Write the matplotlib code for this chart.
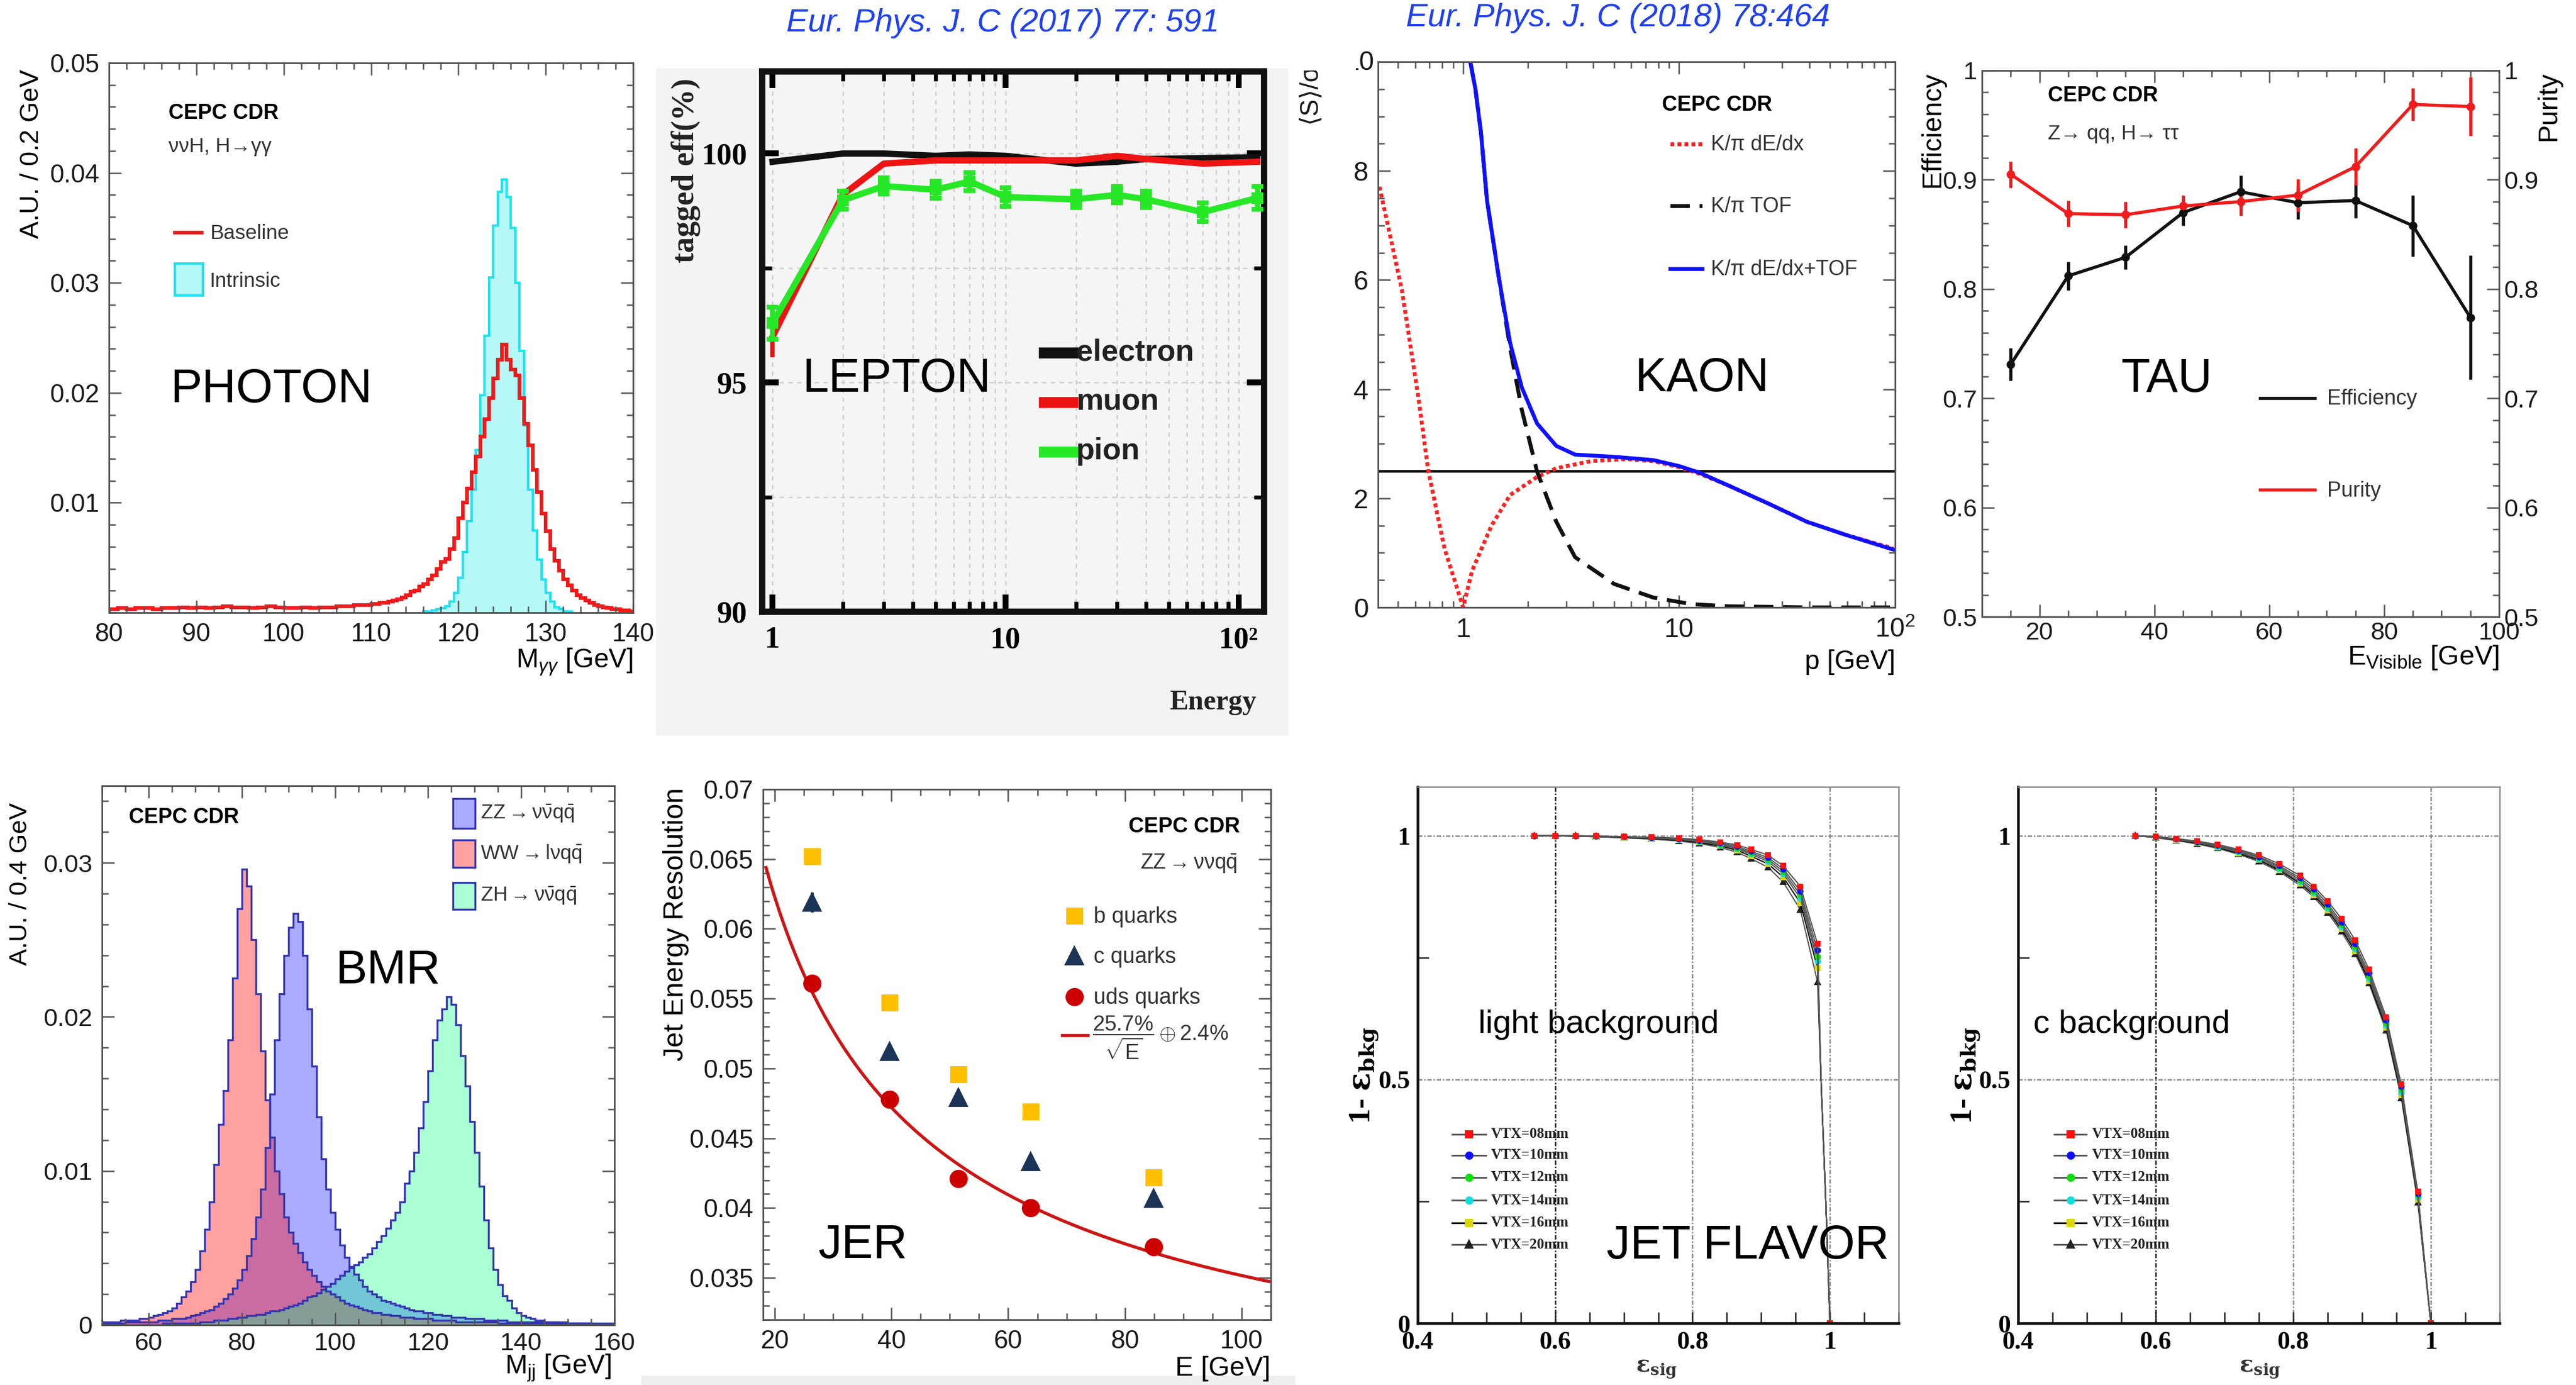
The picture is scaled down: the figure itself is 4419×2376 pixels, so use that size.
import numpy as np
import matplotlib
matplotlib.use("Agg")
import matplotlib.pyplot as plt
from matplotlib import font_manager
from matplotlib.lines import Line2D
from matplotlib.patches import Rectangle
from matplotlib.ticker import MultipleLocator, LogLocator, NullFormatter
from matplotlib.transforms import Bbox, TransformedBbox

# PHOTON: diphoton mass for vvH, H->gamma gamma
photon_edges = np.concatenate([np.arange(80, 110, 1.0), np.arange(110, 140.01, 0.5)])
photon_baseline = [
    0.0003, 0.0004, 0.0003, 0.0004, 0.0004, 0.0003, 0.0004, 0.0004, 0.0005, 0.0004,
    0.0005, 0.0004, 0.0005, 0.0006, 0.0005, 0.0005, 0.0004, 0.0005, 0.0006, 0.0005,
    0.0004, 0.0004, 0.0005, 0.0004, 0.0005, 0.0005, 0.0006, 0.0006, 0.0007, 0.0007,
    0.0008, 0.0008, 0.0009, 0.0009, 0.0010, 0.0011, 0.0012, 0.0014, 0.0016, 0.0019,
    0.0020, 0.0024, 0.0026, 0.0030, 0.0034, 0.0040, 0.0046, 0.0049, 0.0058, 0.0068,
    0.0086, 0.0100, 0.0113, 0.0128, 0.0142, 0.0160, 0.0176, 0.0195, 0.0213, 0.0230,
    0.0244, 0.0230, 0.0221, 0.0216, 0.0195, 0.0172, 0.0152, 0.0130, 0.0110, 0.0090,
    0.0074, 0.0058, 0.0047, 0.0038, 0.0030, 0.0025, 0.0020, 0.0016, 0.0013, 0.0011,
    0.0009, 0.0007, 0.0006, 0.0005, 0.0004, 0.0003, 0.0003, 0.0002, 0.0002, 0.0001]
intrinsic_edges = np.arange(116, 133.01, 0.5)
photon_intrinsic = [
    0.0001, 0.0001, 0.0002, 0.0003, 0.0004, 0.0006, 0.0010, 0.0018,
    0.0032, 0.0055, 0.0083, 0.0112, 0.0148, 0.0198, 0.0252, 0.0305,
    0.0352, 0.0383, 0.0394, 0.0378, 0.0350, 0.0300, 0.0238, 0.0170,
    0.0112, 0.0075, 0.0048, 0.0030, 0.0018, 0.0010, 0.0005, 0.0003,
    0.0001, 0.0001]

# LEPTON: tagging efficiency vs energy
lep_energy = [1, 2, 3, 5, 7, 10, 20, 30, 40, 70, 120]
electron_eff = [99.82, 100.0, 100.0, 99.95, 99.98, 99.95, 99.78, 99.82, 99.88, 99.9, 99.92]
muon_eff = [96.0, 99.1, 99.78, 99.85, 99.85, 99.85, 99.85, 99.95, 99.88, 99.78, 99.82]
muon_err = [0.45, 0.1, 0, 0, 0, 0, 0, 0, 0, 0, 0]
pion_eff = [96.3, 98.98, 99.29, 99.21, 99.39, 99.05, 99.0, 99.1, 99.0, 98.72, 99.03]
pion_err = [0.35, 0.2, 0.18, 0.18, 0.2, 0.2, 0.18, 0.18, 0.18, 0.2, 0.25]
lep_names = ["electron", "muon", "pion"]

# KAON: K/pi separation power
kaon_p_dedx = [0.41, 0.52, 0.62, 0.69, 0.82, 1.0, 1.1, 1.35, 1.65, 2.2, 2.7, 3.9, 5.7, 7.6,
               10, 12.4, 17, 26, 39, 59, 98]
kaon_s_dedx = [7.71, 5.83, 3.86, 2.5, 1.08, 0.0, 0.67, 1.49, 2.06, 2.39, 2.55, 2.68, 2.72, 2.68,
               2.57, 2.45, 2.23, 1.9, 1.57, 1.33, 1.08]
kaon_p_tof = [1.08, 1.14, 1.21, 1.29, 1.46, 1.65, 1.87, 2.2, 2.7, 3.3, 5.0, 7.6, 11.4, 17, 26, 40, 100]
kaon_s_tof = [10.0, 9.5, 8.7, 7.46, 6.07, 4.76, 3.62, 2.49, 1.57, 0.92, 0.43, 0.18, 0.06, 0.02, 0.01, 0.0, 0.0]
kaon_p_comb = [1.08, 1.14, 1.21, 1.29, 1.46, 1.65, 1.87, 2.2, 2.7, 3.3, 5.0, 7.6, 10, 12.4, 17, 26, 39, 59, 98]
kaon_s_comb = [10.0, 9.5, 8.7, 7.46, 6.07, 4.85, 4.03, 3.37, 2.96, 2.8, 2.76, 2.70, 2.59, 2.47, 2.23, 1.9,
               1.57, 1.33, 1.06]
kaon_threshold = 2.5

# TAU: efficiency and purity vs visible energy
tau_e = [15, 25, 35, 45, 55, 65, 75, 85, 95]
tau_eff = [0.731, 0.812, 0.829, 0.870, 0.889, 0.879, 0.881, 0.858, 0.774]
tau_eff_err = [0.015, 0.013, 0.011, 0.012, 0.015, 0.015, 0.016, 0.028, 0.057]
tau_pur = [0.905, 0.869, 0.868, 0.876, 0.880, 0.886, 0.912, 0.969, 0.967]
tau_pur_err = [0.012, 0.012, 0.012, 0.010, 0.013, 0.015, 0.017, 0.015, 0.027]

# BMR: dijet mass, 1 GeV bins from 50 to 160
bmr_edges = np.arange(50, 160.01, 1.0)
bmr_zz = [
    0.0001, 0.0001, 0.0001, 0.0001, 0.0001, 0.0002, 0.0002, 0.0002, 0.0002, 0.0002,
    0.0002, 0.0002, 0.0003, 0.0003, 0.0003, 0.0004, 0.0004, 0.0004, 0.0005, 0.0006,
    0.0007, 0.0008, 0.0009, 0.0010, 0.0012, 0.0014, 0.0017, 0.0020, 0.0024, 0.0029,
    0.0036, 0.0045, 0.0056, 0.0070, 0.0088, 0.0115, 0.0150, 0.0185, 0.0215, 0.0240,
    0.0258, 0.0267, 0.0262, 0.0240, 0.0205, 0.0168, 0.0135, 0.0108, 0.0088, 0.0073,
    0.0062, 0.0052, 0.0044, 0.0038, 0.0033, 0.0029, 0.0025, 0.0022, 0.0020, 0.0018,
    0.0016, 0.0015, 0.0014, 0.0013, 0.0012, 0.0011, 0.0010, 0.0009, 0.0009, 0.0008,
    0.0008, 0.0007, 0.0007, 0.0006, 0.0006, 0.0005, 0.0005, 0.0005, 0.0004, 0.0004,
    0.0004, 0.0004, 0.0003, 0.0003, 0.0003, 0.0003, 0.0003, 0.0002, 0.0002, 0.0002,
    0.0002, 0.0002, 0.0002, 0.0002, 0.0002, 0.0002, 0.0002, 0.0002, 0.0002, 0.0002,
    0.0001, 0.0001, 0.0001, 0.0001, 0.0001, 0.0001, 0.0001, 0.0001, 0.0001, 0.0001]
bmr_ww = [
    0.0002, 0.0002, 0.0002, 0.0002, 0.0003, 0.0003, 0.0003, 0.0003, 0.0004, 0.0004,
    0.0005, 0.0006, 0.0007, 0.0008, 0.0009, 0.0011, 0.0014, 0.0018, 0.0022, 0.0028,
    0.0036, 0.0048, 0.0062, 0.0080, 0.0104, 0.0130, 0.0152, 0.0185, 0.0225, 0.0270,
    0.0296, 0.0285, 0.0250, 0.0215, 0.0178, 0.0146, 0.0122, 0.0100, 0.0085, 0.0070,
    0.0060, 0.0053, 0.0047, 0.0041, 0.0036, 0.0032, 0.0028, 0.0025, 0.0022, 0.0020,
    0.0018, 0.0016, 0.0014, 0.0013, 0.0012, 0.0011, 0.0010, 0.0009, 0.0008, 0.0008,
    0.0007, 0.0007, 0.0006, 0.0006, 0.0005, 0.0005, 0.0005, 0.0004, 0.0004, 0.0004,
    0.0004, 0.0003, 0.0003, 0.0003, 0.0003, 0.0003, 0.0002, 0.0002, 0.0002, 0.0002,
    0.0002, 0.0002, 0.0002, 0.0002, 0.0002, 0.0001, 0.0001, 0.0001, 0.0001, 0.0001,
    0.0001, 0.0001, 0.0001, 0.0001, 0.0001, 0.0001, 0.0001, 0.0001, 0.0001, 0.0001,
    0.0001, 0.0001, 0.0001, 0.0001, 0.0001, 0.0000, 0.0000, 0.0000, 0.0000, 0.0000]
bmr_zh = [
    0.0000, 0.0000, 0.0000, 0.0000, 0.0000, 0.0000, 0.0000, 0.0000, 0.0000, 0.0000,
    0.0000, 0.0000, 0.0000, 0.0001, 0.0001, 0.0001, 0.0001, 0.0001, 0.0001, 0.0001,
    0.0001, 0.0002, 0.0002, 0.0002, 0.0003, 0.0003, 0.0003, 0.0004, 0.0004, 0.0005,
    0.0005, 0.0006, 0.0006, 0.0007, 0.0007, 0.0008, 0.0009, 0.0009, 0.0010, 0.0011,
    0.0012, 0.0013, 0.0014, 0.0016, 0.0018, 0.0019, 0.0021, 0.0023, 0.0025, 0.0027,
    0.0030, 0.0032, 0.0035, 0.0037, 0.0039, 0.0041, 0.0044, 0.0046, 0.0050, 0.0054,
    0.0058, 0.0063, 0.0068, 0.0073, 0.0080, 0.0092, 0.0100, 0.0112, 0.0128, 0.0145,
    0.0165, 0.0185, 0.0198, 0.0205, 0.0213, 0.0208, 0.0195, 0.0175, 0.0155, 0.0132,
    0.0112, 0.0090, 0.0068, 0.0050, 0.0036, 0.0026, 0.0019, 0.0016, 0.0011, 0.0008,
    0.0006, 0.0005, 0.0004, 0.0003, 0.0003, 0.0002, 0.0002, 0.0002, 0.0001, 0.0001,
    0.0001, 0.0001, 0.0001, 0.0001, 0.0001, 0.0000, 0.0000, 0.0000, 0.0000, 0.0000]
bmr_names = [r"ZZ$\rightarrow\mathrm{\nu\bar{\nu}q\bar{q}}$",
             r"WW$\rightarrow\mathrm{l\nu q\bar{q}}$",
             r"ZH$\rightarrow\mathrm{\nu\bar{\nu}q\bar{q}}$"]

# JER: jet energy resolution per quark flavour
jer_energy = [26.4, 39.7, 51.5, 63.8, 84.9]
jer_b = [0.0652, 0.0547, 0.0496, 0.0469, 0.0422]
jer_b_err = [0.0006, 0.0004, 0.0004, 0.0002, 0.0002]
jer_c = [0.0619, 0.0512, 0.0479, 0.0433, 0.0407]
jer_c_err = [0.0007, 0.0002, 0.0006, 0.0002, 0.0002]
jer_uds = [0.0561, 0.0478, 0.0421, 0.0400, 0.0372]
jer_stochastic = 0.257
jer_constant = 0.024

# JET FLAVOR: 1 - bkg efficiency vs signal efficiency for several VTX radii
vtx_names = ["VTX=08mm", "VTX=10mm", "VTX=12mm", "VTX=14mm", "VTX=16mm", "VTX=20mm"]
light_eff_sig = [0.57, 0.60, 0.63, 0.66, 0.70, 0.74, 0.78, 0.81, 0.84, 0.865, 0.885, 0.91,
                 0.932, 0.957, 0.982, 0.987, 0.994, 1.0]
light_rej = [
    [1.0, 1.0, 1.0, 0.999, 0.998, 0.997, 0.995, 0.992, 0.987, 0.981, 0.972, 0.960, 0.938, 0.896, 0.778, 0.5, 0.25, 0.0],
    [1.0, 1.0, 1.0, 0.999, 0.998, 0.996, 0.994, 0.990, 0.985, 0.978, 0.968, 0.955, 0.932, 0.886, 0.765, 0.5, 0.25, 0.0],
    [1.0, 1.0, 0.999, 0.999, 0.997, 0.996, 0.993, 0.989, 0.983, 0.975, 0.965, 0.951, 0.927, 0.879, 0.752, 0.5, 0.25, 0.0],
    [1.0, 1.0, 0.999, 0.998, 0.997, 0.995, 0.992, 0.988, 0.981, 0.973, 0.962, 0.947, 0.922, 0.872, 0.742, 0.5, 0.25, 0.0],
    [1.0, 1.0, 0.999, 0.998, 0.996, 0.994, 0.991, 0.986, 0.979, 0.970, 0.958, 0.942, 0.915, 0.862, 0.728, 0.5, 0.25, 0.0],
    [1.0, 1.0, 0.999, 0.998, 0.996, 0.993, 0.989, 0.984, 0.976, 0.966, 0.953, 0.935, 0.905, 0.848, 0.700, 0.5, 0.25, 0.0]]
c_eff_sig = [0.57, 0.60, 0.63, 0.66, 0.69, 0.72, 0.75, 0.78, 0.81, 0.83, 0.85, 0.87, 0.89, 0.91,
             0.935, 0.957, 0.981, 1.0]
c_rej = [
    [1.0, 0.998, 0.994, 0.989, 0.982, 0.972, 0.960, 0.942, 0.918, 0.896, 0.866, 0.830, 0.786, 0.726, 0.628, 0.490, 0.270, 0.0],
    [1.0, 0.998, 0.993, 0.988, 0.980, 0.970, 0.957, 0.938, 0.913, 0.891, 0.860, 0.823, 0.778, 0.718, 0.622, 0.485, 0.266, 0.0],
    [1.0, 0.997, 0.993, 0.987, 0.979, 0.968, 0.955, 0.935, 0.909, 0.886, 0.855, 0.818, 0.772, 0.712, 0.616, 0.479, 0.262, 0.0],
    [1.0, 0.997, 0.992, 0.986, 0.977, 0.966, 0.952, 0.932, 0.905, 0.882, 0.851, 0.813, 0.768, 0.707, 0.611, 0.474, 0.258, 0.0],
    [1.0, 0.997, 0.991, 0.985, 0.976, 0.964, 0.950, 0.929, 0.902, 0.878, 0.847, 0.808, 0.763, 0.702, 0.606, 0.468, 0.253, 0.0],
    [1.0, 0.996, 0.990, 0.983, 0.974, 0.962, 0.947, 0.926, 0.898, 0.874, 0.842, 0.803, 0.757, 0.697, 0.600, 0.462, 0.248, 0.0]]

# ---------------------------------------------------------------------------
plt.rcParams["font.family"] = ["Liberation Sans", "DejaVu Sans"]
plt.rcParams["mathtext.fontset"] = "custom"
plt.rcParams["mathtext.rm"] = "Liberation Sans"
plt.rcParams["mathtext.it"] = "Liberation Sans:italic"
plt.rcParams["mathtext.bf"] = "Liberation Sans:bold"
SERIF = ["Liberation Serif", "DejaVu Serif"]
installed = {f.name for f in font_manager.fontManager.ttflist}
NARROW = "Liberation Sans Narrow" if "Liberation Sans Narrow" in installed else "Liberation Sans"

W, H = 4419, 2376
fig = plt.figure(figsize=(W / 300, H / 300), dpi=300)


def add_ax(l, t, r, b):
    return fig.add_axes([l / W, 1 - b / H, (r - l) / W, (b - t) / H])


def ftext(x, y, s, **kw):
    kw.setdefault("va", "center")
    return fig.text(x / W, 1 - y / H, s, **kw)


def fline(x0, x1, y, **kw):
    fig.add_artist(Line2D([x0 / W, x1 / W], [1 - y / H, 1 - y / H], transform=fig.transFigure, **kw))


def fmark(x, y, **kw):
    fig.add_artist(Line2D([x / W], [1 - y / H], transform=fig.transFigure, ls="none", **kw))


def fbox(x0, y0, x1, y1, **kw):
    fig.add_artist(Rectangle((x0 / W, 1 - y1 / H), (x1 - x0) / W, (y1 - y0) / H,
                             transform=fig.transFigure, **kw))


def fig_clip(x0, y0, x1, y1):
    return TransformedBbox(Bbox.from_extents(x0 / W, 1 - y1 / H, x1 / W, 1 - y0 / H), fig.transFigure)


def root_style(ax, fs):
    ax.tick_params(which="both", direction="in", top=True, right=True, width=0.6,
                   color="#555555", labelsize=fs, labelcolor="#1a1a1a")
    ax.tick_params(which="major", length=5, pad=4)
    ax.tick_params(which="minor", length=2.6)
    for s in ax.spines.values():
        s.set_linewidth(0.7)
        s.set_edgecolor("#555555")


BIG = 19.5

# ---------------- PHOTON ----------------
ax = add_ax(187, 108, 1086, 1051)
ax.stairs(photon_intrinsic, intrinsic_edges, fill=True, color="#b6f7f7")
ax.stairs(photon_intrinsic, intrinsic_edges, color="#22e2ee", lw=1.0)
ax.stairs(photon_baseline, photon_edges, color="#ee1b1b", lw=1.5)
ax.set_xlim(80, 140)
ax.set_ylim(0, 0.05)
ax.set_xticks(range(80, 141, 10))
ax.set_yticks([0.01, 0.02, 0.03, 0.04, 0.05], ["0.01", "0.02", "0.03", "0.04", "0.05"])
ax.xaxis.set_minor_locator(MultipleLocator(2))
ax.yaxis.set_minor_locator(MultipleLocator(0.002))
root_style(ax, 10.5)
ftext(54, 119, "A.U. / 0.2 GeV", rotation=90, ha="center", va="top", fontsize=10.8)
ftext(1086, 1136, r"M$_{\gamma\gamma}$ [GeV]", ha="right", fontsize=11)
ftext(289, 194, "CEPC CDR", fontsize=8.7, fontweight="bold")
ftext(289, 252, "ννH, H→γγ", fontsize=8.5, color="#333333")
fline(300, 346, 399, color="#ee1b1b", lw=1.5)
ftext(360, 401, "Baseline", fontsize=8.5, color="#333333")
fbox(300, 452, 348, 507, facecolor="#b6f7f7", edgecolor="#22e2ee", lw=1.0)
ftext(360, 482, "Intrinsic", fontsize=8.5, color="#333333")
ftext(292, 669, "PHOTON", fontsize=BIG)

# ---------------- LEPTON ----------------
fbox(1126, 117, 2210, 1262, facecolor="#f3f3f3", edgecolor="none", zorder=-1)
ax = add_ax(1307, 122, 2168, 1049)
ax.set_facecolor("#f5f5f5")
ax.set_xscale("log")
ax.plot(lep_energy, electron_eff, color="#111111", lw=2.6, zorder=3)
ax.errorbar(lep_energy, muon_eff, yerr=muon_err, color="#ee1414", lw=2.6, elinewidth=1.8,
            capsize=0, zorder=4)
ax.errorbar(lep_energy, pion_eff, yerr=pion_err, color="#27e827", lw=2.6, marker="s", ms=4,
            elinewidth=2, capsize=2.5, capthick=2, zorder=5)
ax.set_xlim(0.9, 128)
ax.set_ylim(90, 101.8)
ax.set_xticks([1, 10, 100], ["1", "10", "10²"], fontfamily=SERIF, fontweight="bold")
ax.xaxis.set_minor_locator(LogLocator(base=10, subs=range(2, 10)))
ax.xaxis.set_minor_formatter(NullFormatter())
ax.set_yticks([90, 95, 100], ["90", "95", "100"], fontfamily=SERIF, fontweight="bold")
ax.yaxis.set_minor_locator(MultipleLocator(2.5))
ax.grid(True, which="both", color="#cfcfcf", lw=0.6, ls=(0, (3, 3)))
ax.set_axisbelow(True)
ax.tick_params(which="both", direction="in", top=True, right=True, labelsize=12.5, pad=6)
ax.tick_params(which="major", length=7, width=2.4)
ax.tick_params(which="minor", length=4, width=1.6)
for s in ax.spines.values():
    s.set_linewidth(2.6)
    s.set_edgecolor("#111111")
ftext(1177, 293, "tagged eff(%)", rotation=90, ha="center", fontsize=13,
      fontfamily=SERIF, fontweight="bold", color="#222222")
ftext(2155, 1205, "Energy", ha="right", fontsize=11.5, fontfamily=SERIF, fontweight="bold",
      color="#222222")
for name, col, y in zip(lep_names, ["#111111", "#ee1414", "#27e827"], [605, 690, 775]):
    fline(1791, 1840, y, color=col, lw=4.5)
    ftext(1846, y, name, fontsize=12.5, fontfamily=NARROW, fontweight="bold", color="#222222")
ftext(1376, 651, "LEPTON", fontsize=BIG)
ftext(1720, 40, "Eur. Phys. J. C (2017) 77: 591", ha="center", fontsize=13.3,
      fontstyle="italic", color="#2040f0")

# ---------------- KAON ----------------
ax = add_ax(2364, 106, 3251, 1042)
ax.set_xscale("log")
ax.axhline(kaon_threshold, color="#111111", lw=1.1)
ax.plot(kaon_p_dedx, kaon_s_dedx, color="#ff2222", lw=1.6, ls=(0, (1, 0.8)))
ax.plot(kaon_p_tof, kaon_s_tof, color="#111111", lw=1.6, ls=(0, (5, 2.5)))
ax.plot(kaon_p_comb, kaon_s_comb, color="#1010ff", lw=1.6)
ax.set_xlim(0.404, 100)
ax.set_ylim(0, 10)
ax.set_xticks([1, 10, 100], ["1", "10", "10$^{2}$"])
ax.xaxis.set_minor_locator(LogLocator(base=10, subs=range(2, 10)))
ax.xaxis.set_minor_formatter(NullFormatter())
ax.set_yticks([0, 2, 4, 6, 8, 10], ["0", "2", "4", "6", "8", ""])
ax.yaxis.set_minor_locator(MultipleLocator(0.5))
root_style(ax, 11)
# the "10" label and the axis title are cut off at the panel edge
top_label = ftext(2357, 108, "10", ha="right", fontsize=11, color="#1a1a1a")
top_label.set_clip_box(fig_clip(2326, 0, W, H))
top_label.set_clip_on(True)
y_title = ftext(2247, 161, "⟨S⟩/σ", rotation=90, ha="center", fontsize=10.5, color="#1a1a1a")
y_title.set_clip_box(fig_clip(2210, 121, 2300, 400))
y_title.set_clip_on(True)
ftext(3251, 1136, "p [GeV]", ha="right", fontsize=11)
ftext(2851, 180, "CEPC CDR", fontsize=8.7, fontweight="bold")
kaon_leg = ["K/π dE/dx", "K/π TOF", "K/π dE/dx+TOF"]
for name, col, ls, y in zip(kaon_leg, ["#ff2222", "#111111", "#1010ff"],
                            [(0, (1, 0.8)), (0, (5, 2.5)), "-"], [247, 353, 461]):
    fline(2865, 2920, y, color=col, lw=1.6, ls=ls)
    ftext(2935, y + 2, name, fontsize=8.6, color="#333333")
ftext(2804, 650, "KAON", fontsize=BIG)
ftext(2776, 31, "Eur. Phys. J. C (2018) 78:464", ha="center", fontsize=13.3,
      fontstyle="italic", color="#2040f0")

# ---------------- TAU ----------------
ax = add_ax(3400, 121, 4287, 1058)
ax.errorbar(tau_e, tau_eff, yerr=tau_eff_err, color="#111111", lw=1.3, marker="o", ms=2.5,
            capsize=0, elinewidth=1.3)
ax.errorbar(tau_e, tau_pur, yerr=tau_pur_err, color="#f01c1c", lw=1.3, marker="o", ms=2.5,
            capsize=0, elinewidth=1.3)
ax.set_xlim(10, 100)
ax.set_ylim(0.5, 1.0)
ax.set_xticks([20, 40, 60, 80, 100])
ax.xaxis.set_minor_locator(MultipleLocator(5))
ax.set_yticks([0.5, 0.6, 0.7, 0.8, 0.9, 1.0], ["0.5", "0.6", "0.7", "0.8", "0.9", "1"])
ax.yaxis.set_minor_locator(MultipleLocator(0.02))
root_style(ax, 10.3)
ax.tick_params(labelright=True, pad=2)
ftext(3315, 123, "Efficiency", rotation=90, ha="center", va="top", fontsize=11.2)
ftext(4372, 123, "Purity", rotation=90, ha="center", va="top", fontsize=11.2)
ftext(4287, 1128, r"E$_{\mathrm{Visible}}$ [GeV]", ha="right", fontsize=11.2)
ftext(3513, 164, "CEPC CDR", fontsize=8.7, fontweight="bold")
ftext(3513, 230, "Z→ qq, H→ ττ", fontsize=8.5, color="#333333")
fline(3877, 3971, 683, color="#111111", lw=1.3)
ftext(3992, 685, "Efficiency", fontsize=8.7, color="#333333")
fline(3877, 3971, 840, color="#f01c1c", lw=1.3)
ftext(3992, 842, "Purity", fontsize=8.7, color="#333333")
ftext(3638, 651, "TAU", fontsize=BIG)

# ---------------- BMR ----------------
ax = add_ax(175, 1348, 1054, 2273)
bmr_fill = [("#0000ff", 0.33), ("#ff0000", 0.37), ("#00ff80", 0.33)]
for vals, (col, alpha) in zip([bmr_zz, bmr_ww, bmr_zh], bmr_fill):
    ax.stairs(vals, bmr_edges, fill=True, color=col, alpha=alpha, lw=0)
for vals in [bmr_zz, bmr_ww, bmr_zh]:
    ax.stairs(vals, bmr_edges, color="#3535b0", lw=0.8)
ax.set_xlim(50, 160)
ax.set_ylim(0, 0.035)
ax.set_xticks(range(60, 161, 20))
ax.xaxis.set_minor_locator(MultipleLocator(5))
ax.set_yticks([0, 0.01, 0.02, 0.03], ["0", "0.01", "0.02", "0.03"])
ax.yaxis.set_minor_locator(MultipleLocator(0.002))
root_style(ax, 10.4)
ax.tick_params(axis="x", pad=3)
ftext(35, 1377, "A.U. / 0.4 GeV", rotation=90, ha="center", va="top", fontsize=10.4)
ftext(1049, 2347, r"M$_{\mathrm{jj}}$ [GeV]", ha="right", fontsize=11)
ftext(221, 1402, "CEPC CDR", fontsize=8.7, fontweight="bold")
for name, (col, alpha), (y0, y1) in zip(bmr_names, bmr_fill,
                                       [(1370, 1421), (1441, 1488), (1514, 1560)]):
    fbox(777, y0, 815, y1, facecolor=col, alpha=alpha, edgecolor="none")
    fbox(777, y0, 815, y1, facecolor="none", edgecolor="#3535b0", lw=0.8)
    ftext(824, (y0 + y1) / 2, name, fontsize=8.3, color="#333333")
ftext(575, 1667, "BMR", fontsize=BIG)

# ---------------- JER ----------------
fbox(1100, 2360, 2222, 2376, facecolor="#efefef", edgecolor="none", zorder=-1)
ax = add_ax(1309, 1354, 2180, 2264)
fit_e = np.linspace(18.5, 105, 200)
fit_res = np.sqrt((jer_stochastic / np.sqrt(fit_e)) ** 2 + jer_constant ** 2)
ax.plot(fit_e, fit_res, color="#cc1515", lw=1.3)
ax.errorbar(jer_energy, jer_b, yerr=jer_b_err, ls="none", marker="s", ms=6, color="#ffbf00",
            elinewidth=1.2, capsize=0)
ax.errorbar(jer_energy, jer_c, yerr=jer_c_err, ls="none", marker="^", ms=6.5, color="#1c3455",
            elinewidth=1.2, capsize=0)
ax.plot(jer_energy, jer_uds, ls="none", marker="o", ms=6.5, color="#cc0000")
ax.set_xlim(18, 105)
ax.set_ylim(0.032, 0.07)
ax.set_xticks([20, 40, 60, 80, 100])
ax.xaxis.set_minor_locator(MultipleLocator(5))
ax.set_yticks([0.035, 0.04, 0.045, 0.05, 0.055, 0.06, 0.065, 0.07],
              ["0.035", "0.04", "0.045", "0.05", "0.055", "0.06", "0.065", "0.07"])
ax.yaxis.set_minor_locator(MultipleLocator(0.001))
root_style(ax, 10.6)
ftext(1159, 1351, "Jet Energy Resolution", rotation=90, ha="center", va="top", fontsize=11.5)
ftext(2180, 2348, "E [GeV]", ha="right", fontsize=11.2)
ftext(2127, 1418, "CEPC CDR", ha="right", fontsize=8.8, fontweight="bold")
ftext(2123, 1482, r"ZZ$\rightarrow\mathrm{\nu\nu q\bar{q}}$", ha="right", fontsize=8.6,
      color="#333333")
fmark(1843, 1571, marker="s", ms=6, color="#ffbf00")
ftext(1876, 1573, "b quarks", fontsize=9, color="#333333")
fmark(1843, 1640, marker="^", ms=6.5, color="#1c3455")
ftext(1876, 1642, "c quarks", fontsize=9, color="#333333")
fmark(1843, 1710, marker="o", ms=6.5, color="#cc0000")
ftext(1876, 1712, "uds quarks", fontsize=9, color="#333333")
fline(1822, 1866, 1776, color="#cc1515", lw=1.3)
ftext(1874, 1780, r"$\dfrac{25.7\%}{\sqrt{\mathrm{E}}}\oplus 2.4\%$", fontsize=8.8, color="#333333")
ftext(1404, 2137, "JER", fontsize=BIG)

# ---------------- JET FLAVOR ----------------
vtx_marker = [("#ff1010", "s"), ("#1010ff", "o"), ("#10dd10", "o"), ("#10dddd", "o"),
              ("#d8d800", "s"), ("#222222", "^")]
vtx_line = ["#555555", "#555555", "#555555", "#555555", "#000000", "#555555"]
legend_rows = [1946, 1982, 2020, 2059, 2098, 2135]


def flavor_panel(rect, eff_sig, rej, keep, leg_x, ylab_x, xlab_x):
    ax = add_ax(*rect)
    ax.set_xlim(0.4, 1.1)
    ax.set_ylim(0, 1.1)
    grid_ls = (0, (3, 1.2, 1, 1.2))
    for xv, col in [(0.6, "#222222"), (0.8, "#8a8a8a"), (1.0, "#8a8a8a")]:
        ax.axvline(xv, color=col, lw=0.6, ls=grid_ls, zorder=0)
    for yv in [0.5, 1.0]:
        ax.axhline(yv, color="#8a8a8a", lw=0.6, ls=grid_ls, zorder=0)
    for k in range(len(rej) - 1, -1, -1):
        col, mk = vtx_marker[k]
        ax.plot(eff_sig, rej[k], color=vtx_line[k], lw=0.5, marker=mk, ms=1.6, mfc=col,
                mec=col, markevery=keep)
    ax.set_xticks([0.4, 0.6, 0.8, 1.0], ["0.4", "0.6", "0.8", "1"], fontfamily=SERIF,
                  fontweight="bold")
    ax.set_yticks([0, 0.5, 1.0], ["0", "0.5", "1"], fontfamily=SERIF, fontweight="bold")
    ax.xaxis.set_minor_locator(MultipleLocator(0.05))
    ax.yaxis.set_minor_locator(MultipleLocator(0.25))
    ax.tick_params(which="both", direction="in", labelsize=10.5, color="#222222", width=0.6,
                   length=4.5, pad=3)
    ax.tick_params(axis="y", which="major", length=0)
    for side in ["left", "bottom"]:
        ax.spines[side].set_linewidth(1.1)
        ax.spines[side].set_edgecolor("#111111")
    for side in ["top", "right"]:
        ax.spines[side].set_linewidth(0.6)
        ax.spines[side].set_edgecolor("#8a8a8a")
    for k, name in enumerate(vtx_names):
        col, mk = vtx_marker[k]
        y = legend_rows[k]
        fline(leg_x[0], leg_x[1], y, color=vtx_line[k], lw=0.7)
        fmark((leg_x[0] + leg_x[1]) / 2, y, marker=mk, ms=2.4, mfc=col, mec=col)
        ftext(leg_x[2], y, name, fontsize=6, fontfamily=SERIF, fontweight="bold",
              color="#222222")
    ftext(ylab_x, 1845, r"1- $\mathbf{\epsilon_{bkg}}$", rotation=90, ha="center", fontsize=12.5,
          fontfamily=SERIF, fontweight="bold", math_fontfamily="dejavuserif")
    ftext(xlab_x, 2348, r"$\mathbf{\epsilon_{sig}}$", ha="center", fontsize=9.5,
          math_fontfamily="dejavuserif", color="#333333")
    return ax


keep_light = list(range(15)) + [17]
flavor_panel((2432, 1350, 3257, 2270), light_eff_sig, light_rej, keep_light,
             (2491, 2549, 2558), 2340, 2842)
ftext(2536, 1758, "light background", fontsize=13.5)
ftext(2756, 2138, "JET FLAVOR", fontsize=BIG)

flavor_panel((3462, 1350, 4288, 2270), c_eff_sig, c_rej, None,
             (3524, 3579, 3589), 3372, 3877)
ftext(3488, 1758, "c background", fontsize=13.5)

fig.savefig("out.png", dpi=300)
